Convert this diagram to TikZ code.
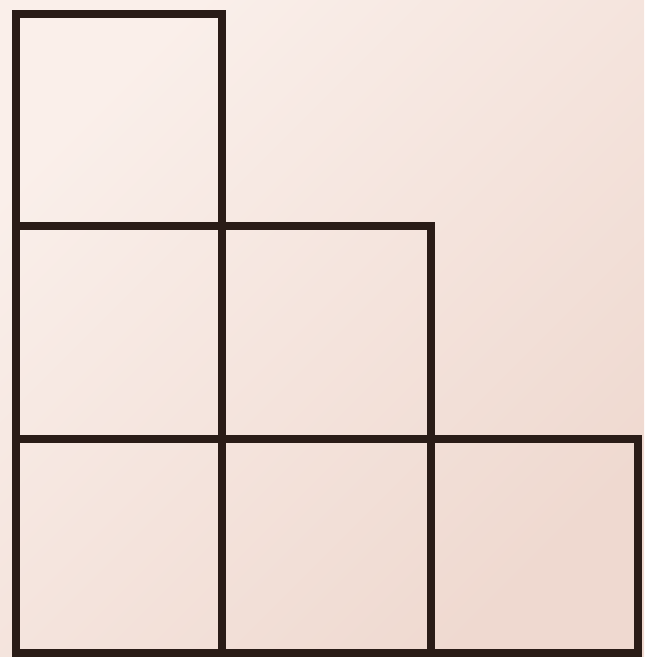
\documentclass[tikz,border=0pt]{standalone}
\usepackage{tikz}
\definecolor{paperlight}{HTML}{FAEFEA}
\definecolor{paperpink}{HTML}{EFD9D0}
\definecolor{inkline}{HTML}{2A1C17}
\tikzset{
  paper/.style={top color=paperlight, bottom color=paperpink, shading angle=45},
  cell/.style={draw=inkline, line width=0.15cm, line join=miter},
}

\begin{document}
\begin{tikzpicture}
\useasboundingbox (0,0) rectangle (12.88,13.14);
\shade[paper] (0,0) rectangle (12.88,13.14);
\draw[cell] (0.320,8.620) rectangle (4.440,12.860);
\draw[cell] (0.320,4.360) rectangle (4.440,8.620);
\draw[cell] (4.440,4.360) rectangle (8.620,8.620);
\draw[cell] (0.320,0.080) rectangle (4.440,4.360);
\draw[cell] (4.440,0.080) rectangle (8.620,4.360);
\draw[cell] (8.620,0.080) rectangle (12.760,4.360);
\end{tikzpicture}
\end{document}
